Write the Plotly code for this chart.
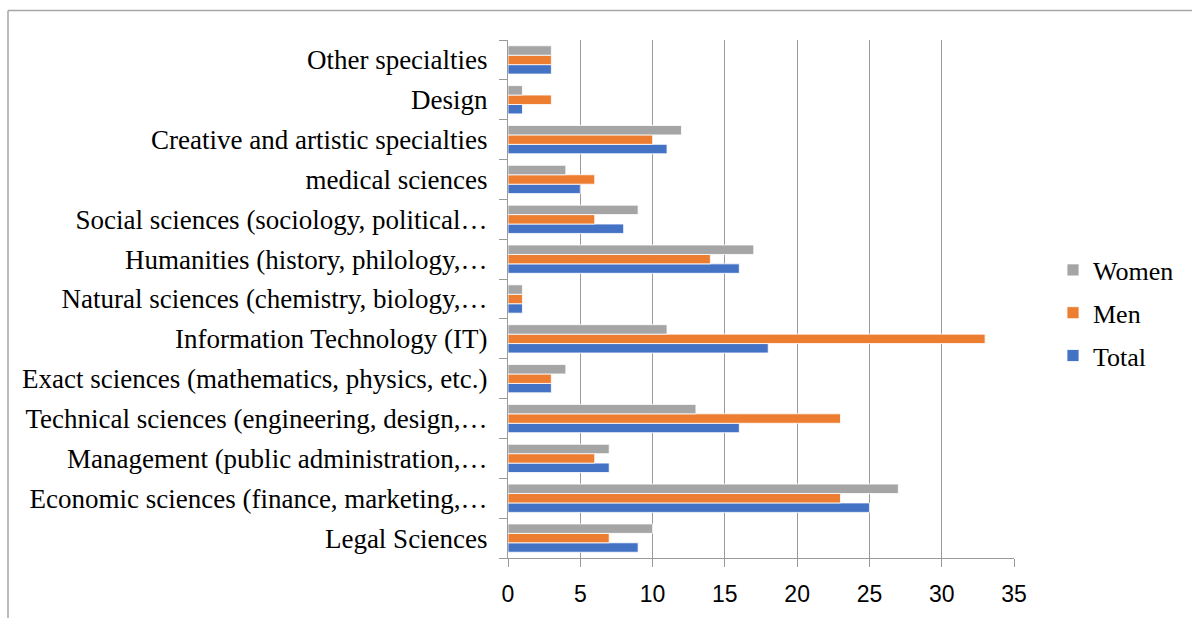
import plotly.graph_objects as go

categories = [
    "Legal Sciences",
    "Economic sciences (finance, marketing,…",
    "Management (public administration,…",
    "Technical sciences (engineering, design,…",
    "Exact sciences (mathematics, physics, etc.)",
    "Information Technology (IT)",
    "Natural sciences (chemistry, biology,…",
    "Humanities (history, philology,…",
    "Social sciences (sociology, political…",
    "medical sciences",
    "Creative and artistic specialties",
    "Design",
    "Other specialties",
]
total = [9, 25, 7, 16, 3, 18, 1, 16, 8, 5, 11, 1, 3]
men = [7, 23, 6, 23, 3, 33, 1, 14, 6, 6, 10, 3, 3]
women = [10, 27, 7, 13, 4, 11, 1, 17, 9, 4, 12, 1, 3]
x_ticks = [0, 5, 10, 15, 20, 25, 30, 35]

series = [("Total", total, "#4472C4", 3), ("Men", men, "#ED7D31", 2), ("Women", women, "#A5A5A5", 1)]

fig = go.Figure()
for name, vals, col, rank in series:
    fig.add_trace(go.Bar(
        y=categories, x=vals, name=name, orientation="h",
        marker=dict(color=col, line=dict(color="white", width=0.8)),
        legendgroup=name, legendrank=rank,
    ))

W, H = 1192, 618
L, R, T, B = 508, 0, 40, 60
PLOT_RIGHT = 1014
pw, ph = W - L - R, H - T - B

def px(x):
    return (x - L) / pw

def py(y):
    return (H - B - y) / ph

serif = "Liberation Serif, Times New Roman, serif"

fig.update_layout(
    width=W, height=H,
    margin=dict(l=L, r=R, t=T, b=B, autoexpand=False),
    paper_bgcolor="white", plot_bgcolor="white",
    barmode="group", bargap=0.29, bargroupgap=0,
    legend=dict(
        x=px(1053), xanchor="left", y=py(313), yanchor="middle",
        tracegroupgap=6,
        font=dict(family=serif, size=26, color="black"),
        bgcolor="rgba(0,0,0,0)",
    ),
    xaxis=dict(
        domain=[0, px(PLOT_RIGHT)],
        range=[0, 35], tickvals=x_ticks, ticktext=[str(v) for v in x_ticks],
        showgrid=True, gridcolor="#9a9a9a", gridwidth=1,
        showline=True, linecolor="#9a9a9a", linewidth=1,
        ticks="outside", ticklen=8, tickcolor="#9a9a9a",
        ticklabelstandoff=7,
        tickfont=dict(family="Liberation Sans, Arial, sans-serif", size=23, color="black"),
        zeroline=False, fixedrange=True, automargin=False,
    ),
    yaxis=dict(
        categoryorder="array", categoryarray=categories,
        showline=True, linecolor="#9a9a9a", linewidth=1,
        ticks="outside", ticklen=8, tickcolor="#9a9a9a", tickson="boundaries",
        ticklabelstandoff=14,
        tickfont=dict(family=serif, size=27, color="black"),
        showgrid=False, fixedrange=True, automargin=False,
    ),
    shapes=[
        dict(type="line", xref="paper", yref="paper",
             x0=px(8), x1=px(W + 20), y0=py(10.5), y1=py(10.5),
             line=dict(color="#a6a6a6", width=1.5)),
        dict(type="line", xref="paper", yref="paper",
             x0=px(8), x1=px(8), y0=py(10.5), y1=py(H + 20),
             line=dict(color="#a6a6a6", width=1.5)),
    ],
)

fig.write_html("out.html", config={"displayModeBar": False},
               post_script="document.body.style.margin='0';")
